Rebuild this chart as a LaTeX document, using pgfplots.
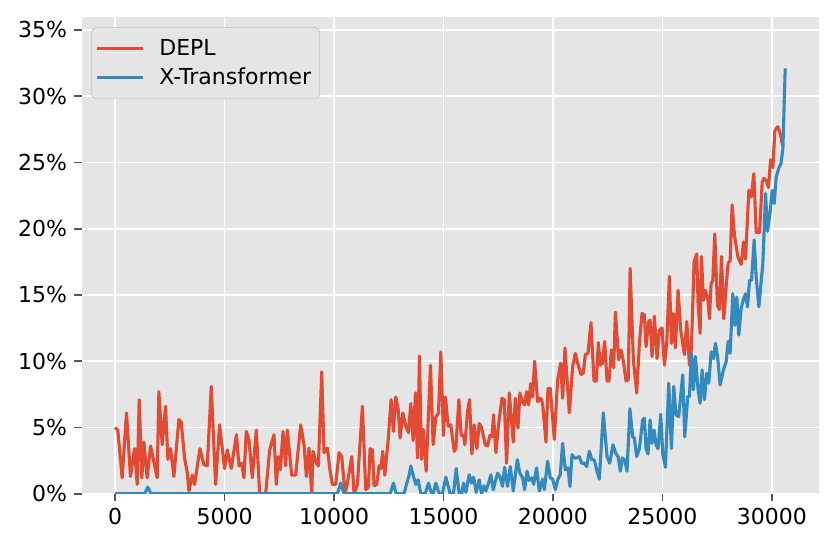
\documentclass[border=0pt]{standalone}
\usepackage{pgfplots}
\pgfplotsset{compat=1.18}
\usepackage{fontspec}
\setmainfont{DejaVu Sans}
\definecolor{ggbg}{HTML}{E5E5E5}
\definecolor{ggred}{HTML}{E24A33}
\definecolor{ggblue}{HTML}{348ABD}
\definecolor{ggtick}{HTML}{555555}
\definecolor{ggframe}{HTML}{CCCCCC}

\pgfplotstableread{
x y
0 5.0
120 4.8
320 1.2
518 6.1
701 1.3
884 3.4
1006 0.7
1098 7.1
1220 1.2
1311 3.9
1463 1.2
1616 3.6
1921 1.2
1997 7.7
2149 3.7
2302 6.6
2408 2.6
2530 3.4
2683 1.3
2912 5.6
3018 5.4
3171 2.7
3293 1.6
3369 0.2
3521 1.4
3628 0.7
3872 3.4
4055 2.2
4207 2.1
4390 8.1
4588 0.7
4771 5.2
5000 1.9
5122 3.3
5305 1.9
5540 4.45
5655 2.1
5777 2.3
5884 1.2
5991 4.7
6113 4.1
6265 1.2
6448 4.8
6600 0
6875 0
7058 3.3
7256 4.45
7363 0.7
7454 2.8
7546 1.8
7668 4.7
7790 2.1
7866 4.8
8064 1.4
8247 1.4
8475 5.2
8628 3.7
8735 1.3
8857 3.45
8979 0
9040 3.2
9193 2.3
9284 2.1
9436 9.2
9543 3.1
9696 3.45
9803 1.9
9923 0.7
10075 0.7
10228 3.1
10350 2.8
10503 0
10610 0.8
10808 2.8
10914 0
11067 0.7
11295 6.6
11448 0.3
11570 0.5
11646 3.4
11753 3.3
11829 0.6
11951 0.7
12058 2.1
12134 1.9
12226 3.2
12317 1.4
12469 4.0
12606 7.1
12713 4.7
12820 7.3
12927 6.4
13018 4.2
13140 6.1
13277 5.1
13399 4.6
13506 6.8
13613 4.0
13719 7.6
13811 2.7
13902 10.4
13994 2.6
14070 4.85
14207 1.7
14405 9.7
14527 3.7
14649 5.8
14771 6.1
14877 10.7
14999 4.4
15090 7.3
15212 5.1
15334 5.2
15487 3.2
15563 3.4
15701 7.1
15807 4.4
15914 4.4
15975 3.7
16097 6.2
16189 7.1
16295 3.0
16402 5.2
16524 3.4
16631 5.3
16738 5.0
16905 3.7
17012 3.6
17119 4.4
17210 4.3
17286 5.95
17393 3.1
17515 5.2
17667 7.2
17774 7.1
17881 2.3
18003 7.6
18186 3.9
18278 7.2
18400 4.95
18491 7.6
18613 6.9
18705 6.7
18796 7.7
18888 6.7
18979 8.3
19071 7.3
19161 10.0
19299 6.95
19451 7.2
19527 6.8
19680 3.9
19771 7.95
19878 7.95
20061 4.1
20213 8.6
20350 9.85
20442 7.2
20548 11.0
20747 6.1
20899 9.6
21021 10.6
21128 9.85
21280 9.0
21387 9.1
21478 10.5
21600 10.6
21737 12.9
21874 8.5
21981 8.5
22073 11.4
22164 9.7
22255 9.85
22362 11.5
22469 8.5
22560 8.5
22667 10.85
22774 9.5
22850 13.7
23002 10.1
23109 10.85
23216 10.0
23338 8.5
23440 8.6
23525 17.0
23673 10.1
23825 7.6
23947 11.35
24069 13.6
24176 13.5
24252 11.1
24374 13.0
24435 13.1
24527 10.35
24633 13.4
24755 10.2
24862 12.35
24984 12.5
25090 9.7
25197 11.35
25319 16.4
25411 11.35
25502 13.6
25593 11.0
25715 15.35
25837 12.35
26005 10.5
26112 13.0
26234 9.7
26325 11.0
26447 17.5
26569 18.1
26630 14.3
26722 12.1
26783 17.9
26874 14.6
26966 15.35
27073 14.7
27149 13.2
27225 15.85
27301 16.1
27392 19.6
27514 14.2
27606 13.9
27697 17.9
27804 13.2
27911 15.6
28002 17.4
28094 17.6
28185 21.8
28292 19.5
28445 17.9
28597 17.3
28704 19.0
28796 17.7
28948 22.9
29055 22.4
29177 24.15
29284 19.7
29436 19.7
29558 23.5
29634 23.8
29741 23.65
29848 23.1
29939 25.2
30046 24.6
30137 27.4
30274 27.7
30381 27.2
30500 26.2
}\depl

\pgfplotstableread{
x y
0 0
1350 0
1494 0.5
1640 0
10150 0
10305 0.8
10460 0
12560 0
12713 0.8
12835 0
13201 0
13323 0.8
13430 1.4
13506 2.1
13628 1.3
13734 0.7
13841 1.05
13963 0
14160 0
14314 0.8
14451 0
14530 0
14649 0.8
14802 0
14950 0
15106 1.25
15303 0
15456 0
15579 1.9
15715 0
15830 0
15914 0.8
16021 0.1
16173 1.43
16280 0.8
16372 1.25
16494 0.1
16631 1.05
16738 0
16850 0.6
16935 0.2
17012 0.55
17164 1.43
17271 0.3
17469 1.55
17576 1.3
17698 0.55
17789 2.0
17927 0.55
18049 2.05
18186 0.2
18370 2.56
18491 1.55
18613 1.2
18705 0.3
18812 1.7
18918 1.0
19040 1.2
19116 0.7
19253 1.95
19375 0.2
19527 1.1
19604 0.3
19756 2.45
19878 1.2
19985 1.1
20107 0.3
20229 1.1
20335 1.45
20441 3.8
20564 1.8
20686 1.95
20777 0.55
20869 2.95
20975 2.7
21082 2.7
21204 2.8
21311 2.3
21433 2.3
21539 2.05
21661 3.2
21783 2.55
21890 2.55
21997 1.8
22118 1.1
22301 6.1
22469 2.8
22591 2.3
22743 3.7
22865 3.07
22972 2.8
23078 1.7
23170 2.7
23277 2.55
23383 1.7
23515 6.4
23642 4.3
23718 4.2
23825 2.8
23947 3.4
24099 5.57
24176 5.7
24252 3.4
24344 3.0
24435 5.57
24527 3.8
24618 4.8
24710 3.7
24801 3.4
24923 6.0
25015 3.0
25137 2.0
25289 8.34
25411 3.4
25517 8.1
25624 5.95
25746 5.82
25868 7.97
25929 8.97
26020 4.3
26158 7.33
26234 7.33
26325 10.6
26417 7.84
26508 10.35
26630 7.84
26722 6.83
26813 9.35
26920 7.1
27027 9.1
27118 8.34
27225 10.7
27331 10.2
27423 11.35
27530 10.2
27636 8.2
27789 9.35
27911 9.97
28002 11.5
28094 10.6
28216 15.1
28307 12.7
28399 14.85
28490 11.97
28597 13.98
28704 14.7
28796 15.1
28887 14.1
28979 16.1
29070 16.1
29191 19.15
29284 16.35
29406 14.1
29589 17.4
29711 22.66
29802 19.8
29924 21.3
30016 22.9
30107 21.9
30198 23.9
30320 24.6
30412 24.9
30503 26.0
30610 32.1
}\xtrans

\begin{document}
\begin{tikzpicture}
\begin{axis}[
    scale only axis,
    width=353.8bp,
    height=229bp,
    xmin=-1530, xmax=32140,
    ymin=0, ymax=36,
    xtick={0,5000,...,30000},
    ytick={0,5,...,35},
    scaled x ticks=false,
    xticklabel style={/pgf/number format/1000 sep={}},
    yticklabel={\pgfmathprintnumber{\tick}\%},
    /pgf/number format/assume math mode=true,
    ticklabel style={font=\fontsize{10.6}{12.7}\selectfont, text=black},
    axis background/.style={fill=ggbg},
    axis line style={draw=none},
    grid=major,
    major grid style={white, line width=0.8pt},
    tick align=outside,
    major tick length=3.5pt,
    tick style={ggtick, line width=0.8pt},
    xtick pos=bottom, ytick pos=left,
    legend cell align=left,
    legend style={
        at={(0.013,0.978)}, anchor=north west,
        draw=ggframe, fill=ggbg, rounded corners=2pt,
        font=\fontsize{10.6}{12.7}\selectfont,
        row sep=0.5pt, column sep=5bp,
        inner xsep=2pt, inner ysep=3.5pt,
    },
    legend image code/.code={\draw[#1] (0bp,0bp) -- (22bp,0bp);},
    every axis plot/.append style={line width=1.5pt, line join=round},
]
\addplot[ggred] table[x=x, y=y] {\depl};
\addlegendentry{DEPL}
\addplot[ggblue] table[x=x, y=y] {\xtrans};
\addlegendentry{X-Transformer}
\end{axis}
\path ([xshift=-39.2bp, yshift=-25bp]current axis.south west)
    rectangle ([xshift=5.9bp, yshift=8bp]current axis.north east);
\end{tikzpicture}
\end{document}
